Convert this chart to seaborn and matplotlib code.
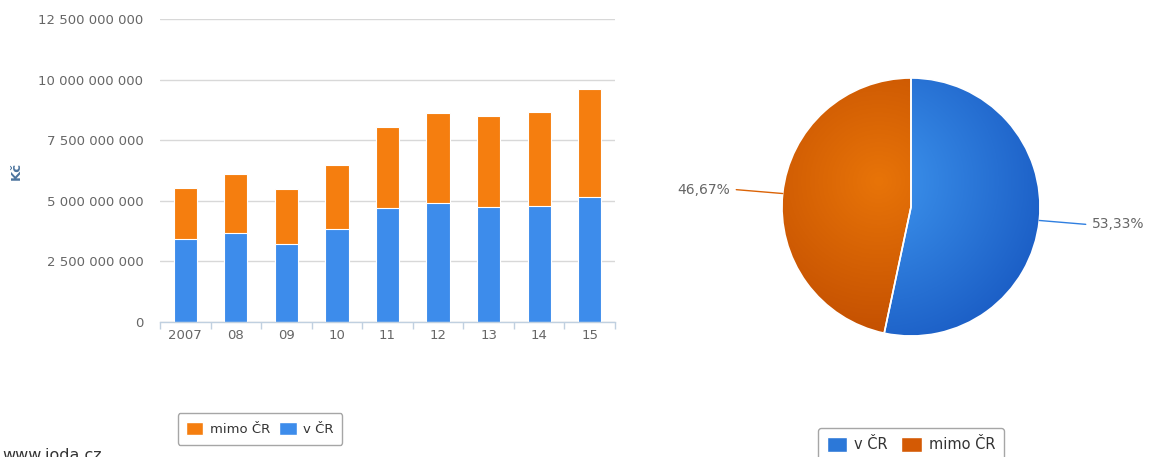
import numpy as np
import pandas as pd
import matplotlib
matplotlib.use("Agg")
import matplotlib.pyplot as plt
import seaborn as sns
from matplotlib.patches import Patch, Wedge
from matplotlib.ticker import FuncFormatter, MultipleLocator
from matplotlib.colors import LinearSegmentedColormap

# Annual amounts (Kč)
years = ["2007", "08", "09", "10", "11", "12", "13", "14", "15"]
v_cr = [3.40e9, 3.68e9, 3.20e9, 3.84e9, 4.69e9, 4.89e9, 4.73e9, 4.79e9, 5.17e9]
mimo_cr = [2.11e9, 2.42e9, 2.27e9, 2.65e9, 3.34e9, 3.72e9, 3.78e9, 3.88e9, 4.46e9]

# Share split (%)
pie_labels = ["v ČR", "mimo ČR"]
pie_shares = [53.33, 46.67]

ORANGE = "#F57E0F"
BLUE = "#3D8CEB"
TEXT = "#666666"

sns.set_theme(style="white")
plt.rcParams["font.family"] = ["DejaVu Sans"]

W, H = 1157, 457
fig = plt.figure(figsize=(W / 100, H / 100), dpi=100)

# ---------- stacked bar chart ----------
ax = fig.add_axes([160 / W, 1 - 321.7 / H, 455 / W, (321.7 - 19.3) / H])
df = pd.DataFrame({"year": years, "v": v_cr, "mimo": mimo_cr})
df["total"] = df["v"] + df["mimo"]

sns.barplot(data=df, x="year", y="total", color=ORANGE, width=0.46,
            saturation=1, edgecolor="white", linewidth=0.8, ax=ax, zorder=3)
sns.barplot(data=df, x="year", y="v", color=BLUE, width=0.46,
            saturation=1, edgecolor="white", linewidth=0.8, ax=ax, zorder=4)

ax.set_ylim(0, 12.5e9)
ax.set_xlim(-0.5, len(years) - 0.5)
ax.yaxis.set_major_locator(MultipleLocator(2.5e9))
ax.yaxis.set_major_formatter(FuncFormatter(lambda v, p: f"{int(v):,}".replace(",", " ")))
ax.grid(axis="y", color="#D8D8D8", linewidth=1, zorder=0)
ax.grid(axis="x", visible=False)
for s in ["top", "right", "left"]:
    ax.spines[s].set_visible(False)
ax.spines["bottom"].set_color("#C0D0E0")
ax.spines["bottom"].set_linewidth(1)
ax.spines["bottom"].set_zorder(5)
ax.tick_params(axis="y", length=0, pad=12, labelsize=9.5, labelcolor=TEXT)
ax.tick_params(axis="x", length=0, pad=5, labelsize=9.5, labelcolor=TEXT)
# tick marks between categories
ax.set_xticks(np.arange(-0.5, len(years), 1.0), minor=True)
ax.tick_params(axis="x", which="minor", length=5, color="#C0D0E0", width=1, bottom=True)
ax.set_xlabel("")
ax.set_ylabel("Kč", fontsize=9.5, fontweight="bold", color="#4D759E")
ax.yaxis.set_label_coords(-137 / 455, 0.5)

ax.legend(handles=[Patch(facecolor=ORANGE, label="mimo ČR"),
                   Patch(facecolor=BLUE, label="v ČR")],
          loc="center", bbox_to_anchor=(260 / W, 1 - 429 / H),
          bbox_transform=fig.transFigure, ncol=2, frameon=True,
          fontsize=9.5, handlelength=1.3, handleheight=1.2, handletextpad=0.5,
          columnspacing=0.7, borderpad=0.65, fancybox=True,
          edgecolor="#909090", labelcolor="#333333")

# ---------- pie chart ----------
R = 129.0
lim = 150.0 / R
pax = fig.add_axes([(911 - 150) / W, 1 - (207 + 150) / H, 300 / W, 300 / H])

wedges, _ = pax.pie(pie_shares, startangle=90, counterclock=False, radius=1,
                    colors=["#2F7FE0", "#DB6306"],
                    wedgeprops=dict(edgecolor="white", linewidth=1.2))
pax.set_xlim(-lim, lim)
pax.set_ylim(-lim, lim)
pax.set_aspect("equal")
pax.axis("off")

# radial shading inside each slice
grad = [("#3E95EE", "#1A5CC4"), ("#E87408", "#BE4A00")]
yy, xx = np.mgrid[-1:1:400j, -1:1:400j]
dist = np.sqrt((xx + 0.25) ** 2 + (yy - 0.2) ** 2)
dist = np.clip(dist / 1.4, 0, 1)
for w, (c0, c1) in zip(wedges, grad):
    cmap = LinearSegmentedColormap.from_list("g", [c0, c1])
    im = pax.imshow(dist, cmap=cmap, extent=(-1, 1, -1, 1), origin="lower",
                    vmin=0, vmax=1, zorder=1.5, interpolation="bilinear")
    im.set_clip_path(w)
for w in wedges:
    edge = Wedge(w.center, w.r, w.theta1, w.theta2, facecolor="none",
                 edgecolor="white", linewidth=1.2, zorder=3)
    pax.add_patch(edge)
pax.set_xlim(-lim, lim)
pax.set_ylim(-lim, lim)

# data labels with connectors
for w, share in zip(wedges, pie_shares):
    mid = np.deg2rad((w.theta1 + w.theta2) / 2)
    dx, dy = np.cos(mid), np.sin(mid)
    side = 1 if dx > 0 else -1
    p0 = (dx * 1.0, dy * 1.0)
    p2 = (p0[0] + side * 0.36, p0[1] - side * 0.03)
    lc = "#2F7FE0" if side > 0 else "#DB6306"
    pax.plot([p0[0], p2[0]], [p0[1], p2[1]], color=lc,
             linewidth=1, clip_on=False, zorder=4)
    txt = f"{share:.2f}%".replace(".", ",")
    pax.text(p2[0] + side * 0.05, p2[1], txt, ha="left" if side > 0 else "right",
             va="center", fontsize=10, color=TEXT, clip_on=False)

pax.legend(handles=[Patch(facecolor="#2C78D8", label="v ČR"),
                    Patch(facecolor="#D45A04", label="mimo ČR")],
           loc="upper center", bbox_to_anchor=(911 / W, 1 - 421 / H),
           bbox_transform=fig.transFigure, ncol=2, frameon=True,
           fontsize=10.5, handlelength=1.4, handleheight=1.2, handletextpad=0.5,
           columnspacing=0.9, borderpad=0.6, fancybox=True,
           edgecolor="#909090", labelcolor="#333333")

fig.text(2 / W, 1 - 463 / H, "www.ioda.cz", fontsize=11.5, color="#333333",
         ha="left", va="bottom")

fig.savefig("out.png", dpi=100, facecolor="white")
